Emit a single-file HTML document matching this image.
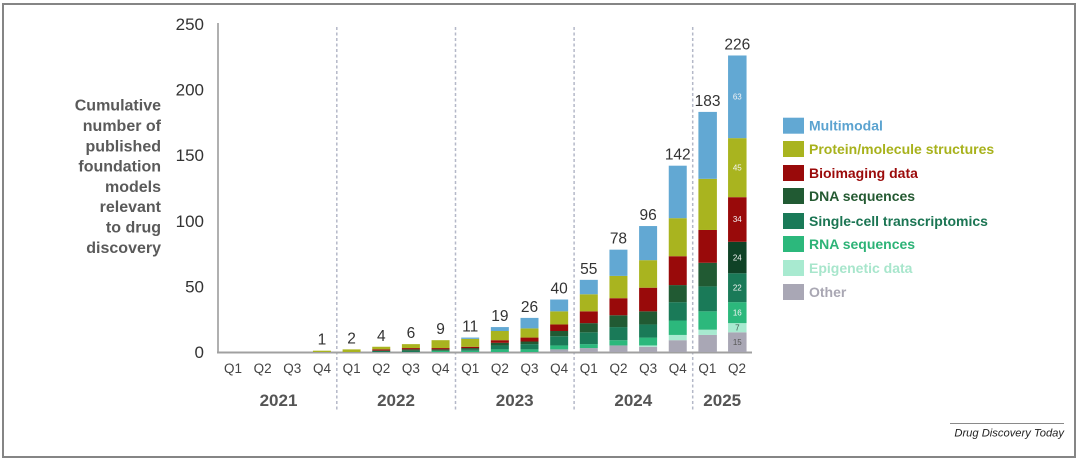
<!DOCTYPE html>
<html><head><meta charset="utf-8"><style>
html,body{margin:0;padding:0;background:#fff;}
svg{display:block;}
</style></head><body>
<svg width="1080" height="460" viewBox="0 0 1080 460" xmlns="http://www.w3.org/2000/svg" font-family="'Liberation Sans', Arial, sans-serif">
<rect x="0" y="0" width="1080" height="460" fill="#fff"/>
<rect x="3" y="4" width="1072" height="453" fill="none" stroke="#858585" stroke-width="2"/>

<!-- left label -->
<g font-size="16" font-weight="bold" fill="#5a5a5a" text-anchor="end">
<text x="161" y="110.7">Cumulative</text>
<text x="161" y="131">number of</text>
<text x="161" y="151.3">published</text>
<text x="161" y="171.6">foundation</text>
<text x="161" y="191.9">models</text>
<text x="161" y="212.2">relevant</text>
<text x="161" y="232.5">to drug</text>
<text x="161" y="252.8">discovery</text>
</g>

<!-- y tick labels -->
<g font-size="17" fill="#333" text-anchor="end">
<text x="204" y="30">250</text>
<text x="204" y="95.6">200</text>
<text x="204" y="161.2">150</text>
<text x="204" y="226.8">100</text>
<text x="204" y="292.4">50</text>
<text x="204" y="358">0</text>
</g>

<!-- separators -->
<g stroke="#b4b8c8" stroke-width="1.5" stroke-dasharray="3,2.5">
<line x1="336.8" y1="27" x2="336.8" y2="410"/>
<line x1="455.5" y1="27" x2="455.5" y2="410"/>
<line x1="574.1" y1="27" x2="574.1" y2="410"/>
<line x1="692.7" y1="27" x2="692.7" y2="410"/>
</g>

<!-- axes -->
<line x1="218" y1="23" x2="218" y2="353" stroke="#b0b0b0" stroke-width="2"/>
<line x1="217" y1="352.5" x2="752" y2="352.5" stroke="#a0a0a0" stroke-width="2"/>

<!-- bars -->
<g>
<!-- i3 -->
<rect x="312.95" y="350.688" width="18" height="1.312" fill="#a9b41f"/>
<!-- i4 -->
<rect x="342.6" y="349.376" width="18" height="2.624" fill="#a9b41f"/>
<!-- i5 -->
<rect x="372.25" y="350.688" width="18" height="1.312" fill="#1a7a58"/>
<rect x="372.25" y="349.376" width="18" height="1.312" fill="#990a0a"/>
<rect x="372.25" y="346.752" width="18" height="2.624" fill="#a9b41f"/>
<!-- i6 -->
<rect x="401.9" y="350.688" width="18" height="1.312" fill="#1a7a58"/>
<rect x="401.9" y="349.376" width="18" height="1.312" fill="#215a33"/>
<rect x="401.9" y="348.064" width="18" height="1.312" fill="#990a0a"/>
<rect x="401.9" y="344.128" width="18" height="3.936" fill="#a9b41f"/>
<!-- i7 -->
<rect x="431.55" y="350.688" width="18" height="1.312" fill="#2cb87c"/>
<rect x="431.55" y="349.376" width="18" height="1.312" fill="#215a33"/>
<rect x="431.55" y="348.064" width="18" height="1.312" fill="#990a0a"/>
<rect x="431.55" y="340.192" width="18" height="7.872" fill="#a9b41f"/>
<!-- i8 -->
<rect x="461.2" y="350.688" width="18" height="1.312" fill="#2cb87c"/>
<rect x="461.2" y="349.376" width="18" height="1.312" fill="#1a7a58"/>
<rect x="461.2" y="348.064" width="18" height="1.312" fill="#215a33"/>
<rect x="461.2" y="346.752" width="18" height="1.312" fill="#990a0a"/>
<rect x="461.2" y="338.88" width="18" height="7.872" fill="#a9b41f"/>
<rect x="461.2" y="337.568" width="18" height="1.312" fill="#62a8d3"/>
<!-- i9 -->
<rect x="490.85" y="349.376" width="18" height="2.624" fill="#2cb87c"/>
<rect x="490.85" y="345.44" width="18" height="3.936" fill="#1a7a58"/>
<rect x="490.85" y="342.816" width="18" height="2.624" fill="#215a33"/>
<rect x="490.85" y="340.192" width="18" height="2.624" fill="#990a0a"/>
<rect x="490.85" y="331.008" width="18" height="9.184" fill="#a9b41f"/>
<rect x="490.85" y="327.072" width="18" height="3.936" fill="#62a8d3"/>
<!-- i10 -->
<rect x="520.5" y="349.376" width="18" height="2.624" fill="#2cb87c"/>
<rect x="520.5" y="344.128" width="18" height="5.248" fill="#1a7a58"/>
<rect x="520.5" y="341.504" width="18" height="2.624" fill="#215a33"/>
<rect x="520.5" y="337.568" width="18" height="3.936" fill="#990a0a"/>
<rect x="520.5" y="328.384" width="18" height="9.184" fill="#a9b41f"/>
<rect x="520.5" y="317.888" width="18" height="10.496" fill="#62a8d3"/>
<!-- i11 -->
<rect x="550.15" y="349.376" width="18" height="2.624" fill="#a9a7b5"/>
<rect x="550.15" y="345.44" width="18" height="3.936" fill="#2cb87c"/>
<rect x="550.15" y="336.256" width="18" height="9.184" fill="#1a7a58"/>
<rect x="550.15" y="331.008" width="18" height="5.248" fill="#215a33"/>
<rect x="550.15" y="324.448" width="18" height="6.56" fill="#990a0a"/>
<rect x="550.15" y="311.328" width="18" height="13.12" fill="#a9b41f"/>
<rect x="550.15" y="299.52" width="18" height="11.808" fill="#62a8d3"/>
<!-- i12 -->
<rect x="579.8" y="348.064" width="18" height="3.936" fill="#a9a7b5"/>
<rect x="579.8" y="344.128" width="18" height="3.936" fill="#2cb87c"/>
<rect x="579.8" y="332.32" width="18" height="11.808" fill="#1a7a58"/>
<rect x="579.8" y="323.136" width="18" height="9.184" fill="#215a33"/>
<rect x="579.8" y="311.328" width="18" height="11.808" fill="#990a0a"/>
<rect x="579.8" y="294.272" width="18" height="17.056" fill="#a9b41f"/>
<rect x="579.8" y="279.84" width="18" height="14.432" fill="#62a8d3"/>
<!-- i13 -->
<rect x="609.45" y="345.44" width="18" height="6.56" fill="#a9a7b5"/>
<rect x="609.45" y="340.192" width="18" height="5.248" fill="#2cb87c"/>
<rect x="609.45" y="327.072" width="18" height="13.12" fill="#1a7a58"/>
<rect x="609.45" y="315.264" width="18" height="11.808" fill="#215a33"/>
<rect x="609.45" y="298.208" width="18" height="17.056" fill="#990a0a"/>
<rect x="609.45" y="275.904" width="18" height="22.304" fill="#a9b41f"/>
<rect x="609.45" y="249.664" width="18" height="26.24" fill="#62a8d3"/>
<!-- i14 -->
<rect x="639.1" y="346.752" width="18" height="5.248" fill="#a9a7b5"/>
<rect x="639.1" y="345.44" width="18" height="1.312" fill="#a8ead0"/>
<rect x="639.1" y="337.568" width="18" height="7.872" fill="#2cb87c"/>
<rect x="639.1" y="324.448" width="18" height="13.12" fill="#1a7a58"/>
<rect x="639.1" y="311.328" width="18" height="13.12" fill="#215a33"/>
<rect x="639.1" y="287.712" width="18" height="23.616" fill="#990a0a"/>
<rect x="639.1" y="260.16" width="18" height="27.552" fill="#a9b41f"/>
<rect x="639.1" y="226.048" width="18" height="34.112" fill="#62a8d3"/>
<!-- i15 -->
<rect x="668.75" y="340.192" width="18" height="11.808" fill="#a9a7b5"/>
<rect x="668.75" y="334.944" width="18" height="5.248" fill="#a8ead0"/>
<rect x="668.75" y="320.512" width="18" height="14.432" fill="#2cb87c"/>
<rect x="668.75" y="302.144" width="18" height="18.368" fill="#1a7a58"/>
<rect x="668.75" y="285.088" width="18" height="17.056" fill="#215a33"/>
<rect x="668.75" y="256.224" width="18" height="28.864" fill="#990a0a"/>
<rect x="668.75" y="218.176" width="18" height="38.048" fill="#a9b41f"/>
<rect x="668.75" y="165.696" width="18" height="52.48" fill="#62a8d3"/>
<!-- i16 -->
<rect x="698.4" y="334.944" width="18.5" height="17.056" fill="#a9a7b5"/>
<rect x="698.4" y="329.696" width="18.5" height="5.248" fill="#a8ead0"/>
<rect x="698.4" y="311.328" width="18.5" height="18.368" fill="#2cb87c"/>
<rect x="698.4" y="286.4" width="18.5" height="24.928" fill="#1a7a58"/>
<rect x="698.4" y="262.784" width="18.5" height="23.616" fill="#215a33"/>
<rect x="698.4" y="229.984" width="18.5" height="32.8" fill="#990a0a"/>
<rect x="698.4" y="178.816" width="18.5" height="51.168" fill="#a9b41f"/>
<rect x="698.4" y="111.904" width="18.5" height="66.912" fill="#62a8d3"/>
<!-- i17 -->
<rect x="728.05" y="332.32" width="18.5" height="19.68" fill="#a9a7b5"/>
<rect x="728.05" y="323.136" width="18.5" height="9.184" fill="#a8ead0"/>
<rect x="728.05" y="302.144" width="18.5" height="20.992" fill="#2cb87c"/>
<rect x="728.05" y="273.28" width="18.5" height="28.864" fill="#1a7a58"/>
<rect x="728.05" y="241.792" width="18.5" height="31.488" fill="#0f4226"/>
<rect x="728.05" y="197.184" width="18.5" height="44.608" fill="#990a0a"/>
<rect x="728.05" y="138.144" width="18.5" height="59.04" fill="#a9b41f"/>
<rect x="728.05" y="55.488" width="18.5" height="82.656" fill="#62a8d3"/>
</g>

<!-- segment labels in last bar -->
<g font-size="8" text-anchor="middle" fill="#f4f4f4">
<text x="737.3" y="99.6">63</text>
<text x="737.3" y="170.5">45</text>
<text x="737.3" y="222">34</text>
<text x="737.3" y="260.3">24</text>
<text x="737.3" y="290.5">22</text>
<text x="737.3" y="315.4">16</text>
<text x="737.3" y="330.5" fill="#3a5a4a">7</text>
<text x="737.3" y="345" fill="#555">15</text>
</g>

<!-- value labels -->
<g font-size="15.5" fill="#333" text-anchor="middle">
<text x="321.95" y="344.7">1</text>
<text x="351.6" y="343.4">2</text>
<text x="381.25" y="340.8">4</text>
<text x="410.9" y="338.1">6</text>
<text x="440.55" y="334.2">9</text>
<text x="470.2" y="331.6">11</text>
<text x="499.85" y="321.1">19</text>
<text x="529.5" y="311.9">26</text>
<text x="559.15" y="293.5">40</text>
<text x="588.8" y="273.8">55</text>
<text x="618.45" y="243.7">78</text>
<text x="648.1" y="220">96</text>
<text x="677.75" y="159.7">142</text>
<text x="707.6" y="105.9">183</text>
<text x="737.3" y="49.5">226</text>
</g>

<!-- Q labels -->
<g font-size="13.5" fill="#444" text-anchor="middle">
<text x="233" y="373">Q1</text>
<text x="262.65" y="373">Q2</text>
<text x="292.3" y="373">Q3</text>
<text x="321.95" y="373">Q4</text>
<text x="351.6" y="373">Q1</text>
<text x="381.25" y="373">Q2</text>
<text x="410.9" y="373">Q3</text>
<text x="440.55" y="373">Q4</text>
<text x="470.2" y="373">Q1</text>
<text x="499.85" y="373">Q2</text>
<text x="529.5" y="373">Q3</text>
<text x="559.15" y="373">Q4</text>
<text x="588.8" y="373">Q1</text>
<text x="618.45" y="373">Q2</text>
<text x="648.1" y="373">Q3</text>
<text x="677.75" y="373">Q4</text>
<text x="707.4" y="373">Q1</text>
<text x="737.05" y="373">Q2</text>
</g>

<!-- year labels -->
<g font-size="17" font-weight="bold" fill="#555" text-anchor="middle">
<text x="278.5" y="406">2021</text>
<text x="396" y="406">2022</text>
<text x="514.7" y="406">2023</text>
<text x="633.3" y="406">2024</text>
<text x="722.2" y="406">2025</text>
</g>

<!-- legend -->
<g>
<rect x="783" y="117.7" width="21" height="16" fill="#62a8d3"/>
<rect x="783" y="141" width="21" height="16" fill="#a9b41f"/>
<rect x="783" y="165" width="21" height="16" fill="#990a0a"/>
<rect x="783" y="188" width="21" height="16" fill="#215a33"/>
<rect x="783" y="213" width="21" height="16" fill="#1a7a58"/>
<rect x="783" y="236" width="21" height="16" fill="#2cb87c"/>
<rect x="783" y="260" width="21" height="16" fill="#a8ead0"/>
<rect x="783" y="284" width="21" height="16" fill="#a9a7b5"/>
</g>
<g font-size="14" font-weight="bold">
<text x="809" y="130.7" fill="#5ba3d0">Multimodal</text>
<text x="809" y="154" fill="#a8b21c">Protein/molecule structures</text>
<text x="809" y="178" fill="#9b0a0a">Bioimaging data</text>
<text x="809" y="201" fill="#245a32">DNA sequences</text>
<text x="809" y="226" fill="#1b7553">Single-cell transcriptomics</text>
<text x="809" y="249" fill="#2db377">RNA sequences</text>
<text x="809" y="273" fill="#a8e6cc">Epigenetic data</text>
<text x="809" y="297" fill="#a9a7b3">Other</text>
</g>

<!-- footer -->
<line x1="950" y1="423.5" x2="1064" y2="423.5" stroke="#8a8a8a" stroke-width="1"/>
<text x="1064" y="436.5" font-size="11.2" font-style="italic" fill="#222" text-anchor="end">Drug Discovery Today</text>
</svg>
</body></html>
